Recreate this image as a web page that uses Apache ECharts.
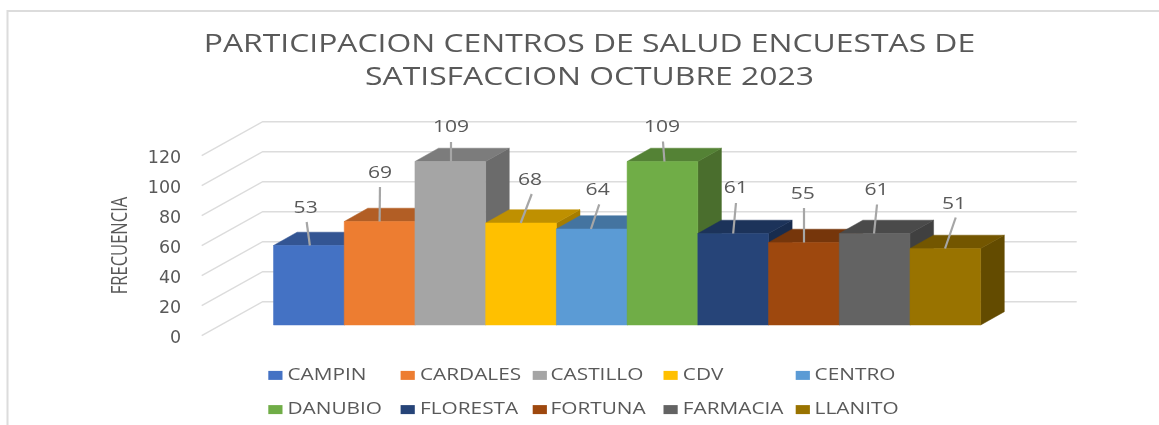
<!DOCTYPE html>
<html><head><meta charset="utf-8">
<style>html,body{margin:0;padding:0;background:#fff}#c{width:1159px;height:425px}</style>
<script src="https://cdn.jsdelivr.net/npm/echarts@6/dist/echarts.min.js"></script>
</head><body><div id="c"></div>
<script>
const centros = ['CAMPIN','CARDALES','CASTILLO','CDV','CENTRO','DANUBIO','FLORESTA','FORTUNA','FARMACIA','LLANITO'];
const frecuencia = [53,69,109,68,64,109,61,55,61,51];
const ticks = [0,20,40,60,80,100,120];
const titulo = 'PARTICIPACION CENTROS DE SALUD ENCUESTAS DE\nSATISFACCION OCTUBRE 2023';
const ejeY = 'FRECUENCIA';
const frontColors = ['#4472C4','#ED7D31','#A5A5A5','#FFC000','#5B9BD5','#70AD47','#264478','#9E480E','#636363','#997300'];
const topColors = ['#335593','#B25E25','#7C7C7C','#BF9000','#4474A0','#548235','#1C335A','#76360B','#4A4A4A','#735600'];
const sideColors = ['#2C4A80','#9A5120','#6B6B6B','#A67D00','#3B658B','#4A6E2D','#182C4E','#672F09','#404040','#634B00'];
// label centre relative to the bar's front-top centre
const labelOffsets = [[-3.2,-36.5],[.4,-47.5],[.7,-33.8],[9,-42.3],[5.9,-38],[-.5,-33.8],[2.5,-44.5],[-1.2,-47.5],[2,-42.5],[8.7,-43.5]];
// leader: base dx on the bar's top edge, tip dx, tip dy
const leaders = [[1,-2.2,-23.5],[0,.4,-34.5],[.7,.7,-19.5],[-.3,10.7,-29],[-.8,7.5,-24.7],[2,.5,-20],[0,2.8,-30.5],[.1,.1,-34.5],[-.6,2.4,-29],[-.3,10.4,-31]];

const DX = 23.6, DY = -13.3;
const WALL_SHIFT = -3, WALL_DX = 61, WALL_DY = -34, WALL_END = 1076.7;
const LEG_COLS = [268.3, 400.6, 532.7, 663.5, 795.7];
const LEG_TEXT = [287.5, 420, 550.5, 682.8, 814.6];
const LEG_ROWS = [375.4, 409.6];

function barItem(i){
  return function(params, api){
    const top = api.coord([i, api.value(1)]);
    const bot = api.coord([i, 0]);
    const w = api.size([1,0])[0];
    const l = top[0]-w/2, r = top[0]+w/2, t = top[1], b = bot[1];
    const poly = (pts, fill) => ({type:'polygon', shape:{points:pts}, style:{fill, stroke:fill, lineWidth:0.5}});
    const off = labelOffsets[i], ld = leaders[i];
    return {type:'group', children:[
      poly([[r,t],[r+DX,t+DY],[r+DX,b+DY],[r,b]], sideColors[i]),
      poly([[l,t],[l+DX,t+DY],[r+DX,t+DY],[r,t]], topColors[i]),
      poly([[l,t],[r,t],[r,b],[l,b]], frontColors[i]),
      {type:'line', shape:{x1:top[0]+ld[0], y1:t, x2:top[0]+ld[1], y2:t+ld[2]},
        style:{stroke:'#A6A6A6', lineWidth:2.2}},
      {type:'text', x:top[0]+off[0], y:t+off[1], scaleX:1.36, style:{text:String(api.value(1)), fill:'#595959',
        font:'15.5px "Open Sans"', align:'center', verticalAlign:'middle'}}
    ]};
  };
}

const wallSeries = {
  type:'custom', name:'pared', silent:true, z:1, xAxisIndex:1, yAxisIndex:1,
  data: ticks.map(v => [0, v]), encode:{x:0,y:1},
  renderItem(params, api){
    const p = api.coord([0, api.value(1)]);
    const y = p[1]+WALL_SHIFT;
    return {type:'polyline', shape:{points:[[p[0],y],[p[0]+WALL_DX,y+WALL_DY],[WALL_END,y+WALL_DY]]},
      style:{fill:'none', stroke:'#DCDCDC', lineWidth:1.5}};
  }
};

const barSeries = centros.map((name,i)=>({
  type:'custom', name, z:2+i, itemStyle:{color:frontColors[i]},
  data:[[i, frecuencia[i]]], encode:{x:0,y:1}, renderItem:barItem(i)
}));

const legends = centros.map((n,i)=>({
  left:LEG_COLS[i%5], top:LEG_ROWS[Math.floor(i/5)]-4.5, data:[n], icon:'rect', itemWidth:14.2, itemHeight:9,
  selectedMode:false, padding:0, formatter:()=>'', textStyle:{fontSize:1}
}));

const legendTexts = centros.map((n,i)=>({
  type:'text', silent:true, x:LEG_TEXT[i%5], y:LEG_ROWS[Math.floor(i/5)], scaleX:1.3,
  style:{text:n, font:'16px "Open Sans"', fill:'#595959', align:'left', verticalAlign:'middle'}
}));

const option = {
  animation:false, backgroundColor:'#fff',
  legend:legends,
  grid:[{left:273.5, top:145, width:707.2, height:180},
        {left:201.7, top:158.7, width:1, height:180}],
  xAxis:[{type:'category', data:centros, show:false, gridIndex:0},
         {type:'value', min:0, max:1, show:false, gridIndex:1}],
  yAxis:[{type:'value', min:0, max:120, interval:20, show:false, gridIndex:0},
         {type:'value', min:0, max:120, interval:20, gridIndex:1,
          axisLine:{show:false}, axisTick:{show:false}, splitLine:{show:false},
          axisLabel:{margin:20.5, fontFamily:'"DejaVu Sans"', fontSize:17.5, color:'#595959'}}],
  graphic:[
    {type:'polyline', silent:true, z:0, shape:{points:[[7.5,425],[7.5,11],[1159,11]]},
      style:{fill:'none', stroke:'#DCDCDC', lineWidth:2}},
    {type:'text', silent:true, x:589.5, y:61.5, scaleX:1.274,
      style:{text:titulo, font:'25px "Open Sans"', fill:'#595959', align:'center', verticalAlign:'middle', lineHeight:33.5}},
    {type:'text', silent:true, x:120.5, y:245.5, rotation:Math.PI/2, scaleX:0.735,
      style:{text:ejeY, font:'22.5px "Open Sans"', fill:'#595959', align:'center', verticalAlign:'middle'}}
  ].concat(legendTexts),
  series:[wallSeries].concat(barSeries)
};
echarts.init(document.getElementById('c'), null, {renderer:'canvas'}).setOption(option);
</script></body></html>
